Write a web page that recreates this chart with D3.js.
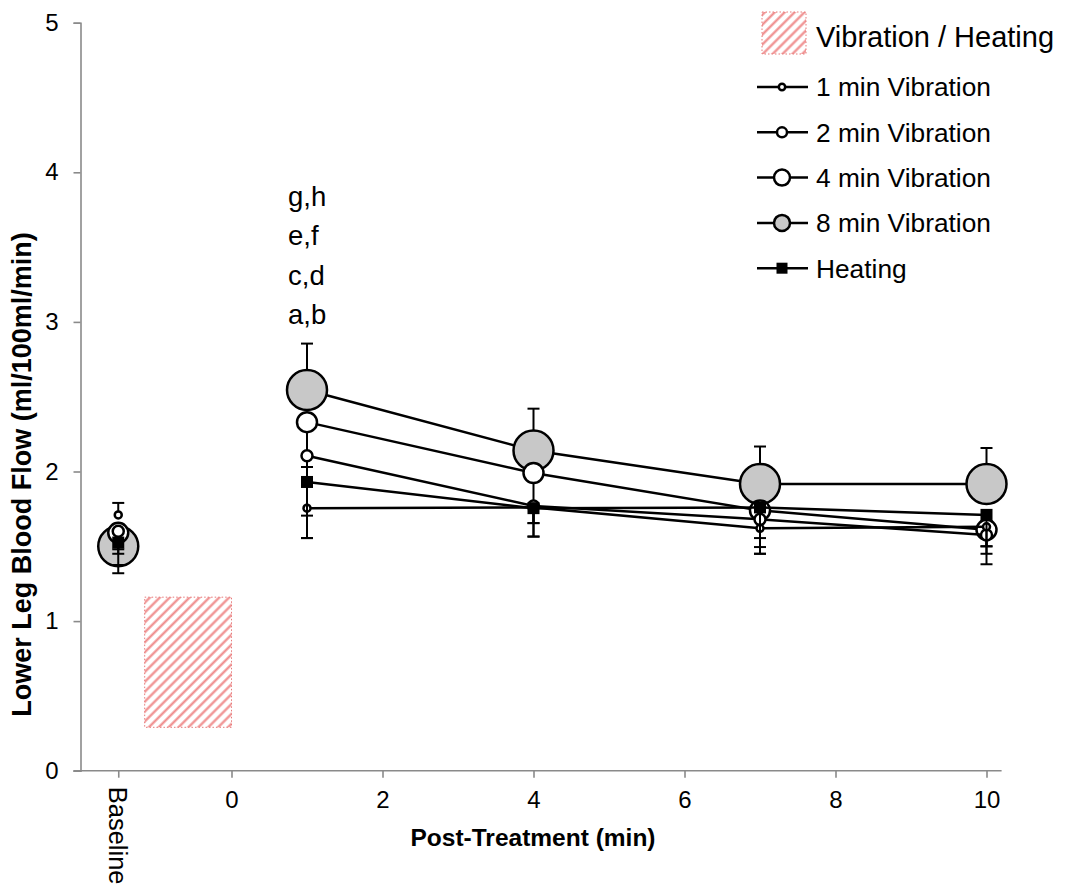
<!DOCTYPE html>
<html>
<head>
<meta charset="utf-8">
<script src="https://cdn.jsdelivr.net/npm/d3@7"></script>
<style>
  body { margin: 0; background: #fff; }
  svg { display: block; font-family: "Liberation Sans", Arial, sans-serif; }
</style>
</head>
<body>
<div id="main-content"></div>
<script>
// Sampling times in minutes after treatment; baseline is placed left of zero
const times = [-1.5, 1, 4, 7, 10];
const xTickValues = [0, 2, 4, 6, 8, 10];
const yTickValues = [0, 1, 2, 3, 4, 5];

// Mean lower leg blood flow per group, with signed error (+ up, - down)
const vib1 = [1.71, 1.755, 1.76, 1.62, 1.63];
const vib1Err = [0.08, -0.20, -0.195, -0.17, -0.13];
const vib2 = [1.60, 2.105, 1.77, 1.68, 1.575];
const vib2Err = [-0.12, -0.40, -0.205, -0.23, -0.195];
const vib4 = [1.59, 2.33, 1.99, 1.74, 1.61];
const vib4Err = [-0.14, -0.30, -0.335, -0.245, -0.16];
const vib8 = [1.50, 2.545, 2.14, 1.917, 1.917];
const vib8Err = [-0.18, 0.31, 0.28, 0.25, 0.24];
const heat = [1.525, 1.93, 1.755, 1.76, 1.71];
const heatErr = [-0.15, -0.375, -0.10, -0.205, -0.21];

const seriesNames = ["1 min Vibration", "2 min Vibration", "4 min Vibration", "8 min Vibration", "Heating"];

// Significance letters stacked above the 1 min point
const sigLetters = ["g,h", "e,f", "c,d", "a,b"];

// Treatment period shown as a hatched block
const treatX = [-1.15, 0];
const treatY = [0.29, 1.16];

// Marker look for every group (same order as seriesNames)
const markerStyle = [
    { shape: "circle", r: 3.5, legendR: 3.2, fill: "#fff" },
    { shape: "circle", r: 5.5, legendR: 5, fill: "#fff" },
    { shape: "circle", r: 10, legendR: 8, fill: "#fff" },
    { shape: "circle", r: 20, legendR: 8, fill: "#c8c8c8" },
    { shape: "square", r: 6, legendR: 5.5, fill: "#000" }
];

const width = 1066, height = 886;
const font = "Liberation Sans, Arial, sans-serif";

const svg = d3.select("#main-content")
    .append("svg")
    .attr("width", width)
    .attr("height", height);

// Diagonal red hatching
const defs = svg.append("defs");
defs.append("pattern")
    .attr("id", "hatch")
    .attr("patternUnits", "userSpaceOnUse")
    .attr("width", 7)
    .attr("height", 7)
    .attr("patternTransform", "rotate(45)")
    .append("line")
    .attr("x1", 3.5).attr("y1", 0)
    .attr("x2", 3.5).attr("y2", 7)
    .attr("stroke", "#ef8a8a")
    .attr("stroke-width", 2.2);

const x = d3.scaleLinear().domain([-2, 10.2]).range([80.5, 1001.6]);
const y = d3.scaleLinear().domain([0, 5]).range([770.7, 22.7]);

// Axes
const yAxis = svg.append("g")
    .attr("transform", `translate(${x(-2)},0)`)
    .call(d3.axisLeft(y).tickValues(yTickValues).tickSize(7).tickPadding(15).tickFormat(d3.format("d")));

const xAxis = svg.append("g")
    .attr("transform", `translate(0,${y(0)})`)
    .call(d3.axisBottom(x).tickValues([times[0]].concat(xTickValues)).tickSize(7).tickPadding(13)
        .tickFormat(d => d === times[0] ? "" : d3.format("d")(d)));

[yAxis, xAxis].forEach(g => {
    g.attr("font-family", font).attr("font-size", 24);
    g.select(".domain").attr("stroke", "#8a8a8a").attr("stroke-width", 1.6);
    g.selectAll(".tick line").attr("stroke", "#8a8a8a").attr("stroke-width", 1.6);
    g.selectAll(".tick text").attr("fill", "#000");
});

// Extend the x axis line left to meet the y axis tick
xAxis.select(".domain").attr("d", `M${x(-2) - 7},0H${x(10.2)}`);

// Baseline label runs downwards
svg.append("text")
    .attr("transform", `translate(${x(times[0])},${y(0) + 16}) rotate(90)`)
    .attr("dy", "0.35em")
    .style("font-size", "25.5px")
    .text("Baseline");

// Axis titles
svg.append("text")
    .attr("x", 533)
    .attr("y", 846)
    .attr("text-anchor", "middle")
    .style("font-size", "24.5px")
    .style("font-weight", "bold")
    .text("Post-Treatment (min)");

svg.append("text")
    .attr("transform", `translate(31,474.5) rotate(-90)`)
    .attr("text-anchor", "middle")
    .style("font-size", "27px")
    .style("font-weight", "bold")
    .text("Lower Leg Blood Flow (ml/100ml/min)");

// Treatment block
svg.append("rect")
    .attr("x", x(treatX[0]))
    .attr("y", y(treatY[1]))
    .attr("width", x(treatX[1]) - x(treatX[0]))
    .attr("height", y(treatY[0]) - y(treatY[1]))
    .attr("fill", "url(#hatch)")
    .attr("stroke", "#e67a7a")
    .attr("stroke-width", 1)
    .attr("stroke-dasharray", "1.5,2");

// Draws one marker at (cx, cy)
function drawMarker(g, style, cx, cy, r) {
    if (style.shape === "square") {
        g.append("rect")
            .attr("x", cx - r).attr("y", cy - r)
            .attr("width", 2 * r).attr("height", 2 * r)
            .attr("fill", style.fill);
    } else {
        g.append("circle")
            .attr("cx", cx).attr("cy", cy).attr("r", r)
            .attr("fill", style.fill)
            .attr("stroke", "#000")
            .attr("stroke-width", 2.5);
    }
}

const allValues = [vib1, vib2, vib4, vib8, heat];
const allErrors = [vib1Err, vib2Err, vib4Err, vib8Err, heatErr];

// Draw the bigger markers first so the small ones stay visible
const drawOrder = [3, 2, 1, 0, 4];

const line = d3.line().x(d => x(d.t)).y(d => y(d.v));

drawOrder.forEach(i => {
    const pts = times.map((t, j) => ({ t: t, v: allValues[i][j], e: allErrors[i][j] }));
    const g = svg.append("g");

    // Only post-treatment points are joined
    g.append("path")
        .datum(pts.slice(1))
        .attr("d", line)
        .attr("fill", "none")
        .attr("stroke", "#000")
        .attr("stroke-width", 2.5);

    // Error bars with a cap at the end
    pts.forEach(p => {
        const yEnd = y(p.v + p.e);
        g.append("line")
            .attr("x1", x(p.t)).attr("x2", x(p.t))
            .attr("y1", y(p.v)).attr("y2", yEnd)
            .attr("stroke", "#000").attr("stroke-width", 2);
        g.append("line")
            .attr("x1", x(p.t) - 6).attr("x2", x(p.t) + 6)
            .attr("y1", yEnd).attr("y2", yEnd)
            .attr("stroke", "#000").attr("stroke-width", 2);
    });

    pts.forEach(p => drawMarker(g, markerStyle[i], x(p.t), y(p.v), markerStyle[i].r));
});

// Significance letters
svg.append("g")
    .selectAll("text")
    .data(sigLetters)
    .enter()
    .append("text")
    .attr("x", 288)
    .attr("y", (d, i) => 206 + i * 39.3)
    .style("font-size", "27.5px")
    .text(d => d);

// Legend
const legend = svg.append("g");

legend.append("rect")
    .attr("x", 762).attr("y", 12)
    .attr("width", 44).attr("height", 42)
    .attr("fill", "url(#hatch)")
    .attr("stroke", "#e67a7a")
    .attr("stroke-width", 1)
    .attr("stroke-dasharray", "1.5,2");

legend.append("text")
    .attr("x", 816).attr("y", 47)
    .style("font-size", "29px")
    .text("Vibration / Heating");

seriesNames.forEach((name, i) => {
    const cy = 87 + i * 45.3;
    legend.append("line")
        .attr("x1", 757).attr("x2", 808)
        .attr("y1", cy).attr("y2", cy)
        .attr("stroke", "#000").attr("stroke-width", 2.5);
    drawMarker(legend, markerStyle[i], 782, cy, markerStyle[i].legendR);
    legend.append("text")
        .attr("x", 816).attr("y", cy)
        .attr("dy", "0.36em")
        .style("font-size", "26.3px")
        .text(name);
});
</script>
</body>
</html>
